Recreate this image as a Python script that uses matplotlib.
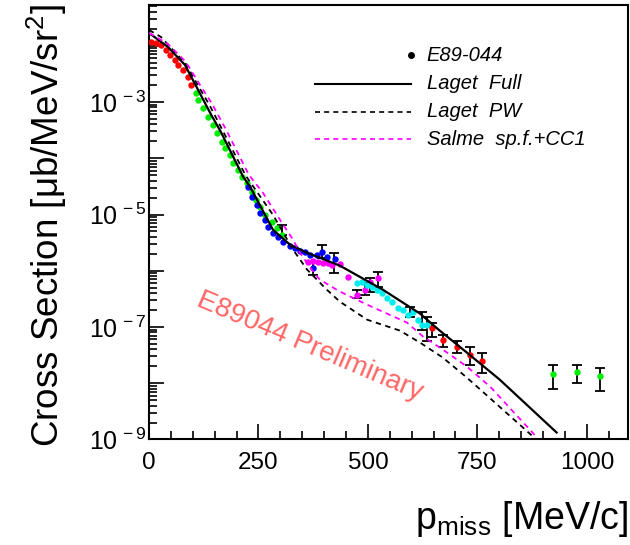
import numpy as np
import matplotlib
matplotlib.use('Agg')
import matplotlib.pyplot as plt
from matplotlib.ticker import FixedLocator, FuncFormatter, MultipleLocator

plt.rcParams['font.family'] = ['Liberation Sans', 'DejaVu Sans']
plt.rcParams['mathtext.fontset'] = 'custom'
plt.rcParams['mathtext.rm'] = 'Liberation Sans'
plt.rcParams['mathtext.it'] = 'Liberation Sans:italic'

# theory curves (p_miss in MeV/c, cross section in ub/MeV/sr^2)
full_p = [0, 43, 82, 112, 142, 164, 215, 231, 283, 322, 361, 436, 534, 619, 664, 726, 801, 931]
full_s = [1.69e-2, 9.55e-3, 4.58e-3, 1.65e-3, 5.93e-4, 2.96e-4, 4.69e-5, 3.12e-5, 5.37e-6,
          2.91e-6, 2.09e-6, 1.23e-6, 4.61e-7, 1.73e-7, 8.63e-8, 3.51e-8, 1.16e-8, 1.33e-9]

pw_p = [0, 27, 84, 110, 139, 171, 221, 283, 329, 361, 406, 436, 498, 573, 619, 671, 726, 877]
pw_s = [1.91e-2, 1.44e-2, 4.78e-3, 2.10e-3, 8.57e-4, 2.84e-4, 4.89e-5, 9.91e-6, 2.37e-6,
        1.05e-6, 4.61e-7, 2.82e-7, 1.35e-7, 8.63e-8, 5.28e-8, 2.86e-8, 1.26e-8, 1.13e-9]

salme_p = [0, 43, 84, 112, 144, 176, 228, 260, 299, 329, 345, 368, 390, 436, 498, 589, 626,
           671, 726, 779, 886]
salme_s = [1.69e-2, 1.08e-2, 5.18e-3, 2.29e-3, 9.29e-4, 3.21e-4, 5.09e-5, 2.44e-5, 8.09e-6,
           3.56e-6, 2.09e-6, 1.14e-6, 6.95e-7, 4.26e-7, 2.50e-7, 1.20e-7, 6.75e-8, 3.97e-8,
           1.98e-8, 8.73e-9, 1.09e-9]

# E89-044 data, one array pair per colour
red1_p = [5, 16, 27, 39, 48, 59, 66, 78, 89, 96]
red1_s = [1.17e-2, 1.13e-2, 1.04e-2, 8.45e-3, 6.89e-3, 5.62e-3, 4.58e-3, 3.73e-3, 2.81e-3, 2.02e-3]

green1_p = [107, 112, 123, 135, 146, 155, 167, 174, 185, 192, 203, 212, 224, 235, 244, 253,
            265, 281, 292, 304]
green1_s = [1.46e-3, 1.09e-3, 7.89e-4, 5.46e-4, 3.94e-4, 2.84e-4, 1.96e-4, 1.54e-4, 1.15e-4,
            8.32e-5, 6.25e-5, 4.69e-5, 3.67e-5, 2.54e-5, 1.83e-5, 1.38e-5, 9.9e-6, 7.45e-6,
            5.83e-6, 4.38e-6]

blue_p = [226, 235, 247, 253, 265, 272, 283, 295, 306, 322, 333, 345, 356, 368, 374, 384, 395,
          406, 425]
blue_s = [3.12e-5, 2.07e-5, 1.49e-5, 1.08e-5, 8.1e-6, 6.07e-6, 4.75e-6, 4.04e-6, 3.29e-6,
          2.79e-6, 2.57e-6, 2.28e-6, 2.18e-6, 1.93e-6, 1.14e-6, 1.93e-6, 2.18e-6, 1.78e-6, 1.64e-6]

mag_p = [363, 374, 386, 397, 409, 418, 436, 454, 475, 493, 505, 523]
mag_s = [1.45e-6, 1.51e-6, 1.45e-6, 1.39e-6, 1.39e-6, 1.28e-6, 1.34e-6, 7.85e-7, 3.76e-7,
         4.61e-7, 6.4e-7, 7.53e-7]

cyan_p = [475, 486, 498, 509, 521, 532, 543, 555, 568, 580, 591, 603, 614, 623, 635]
cyan_s = [6.15e-7, 6.4e-7, 5.66e-7, 5.22e-7, 4.61e-7, 4.08e-7, 3.33e-7, 2.82e-7, 2.21e-7,
          2.04e-7, 1.66e-7, 1.87e-7, 1.35e-7, 1.10e-7, 1.10e-7]

red2_p = [646, 671, 703, 733, 760]
red2_s = [9.75e-8, 5.97e-8, 4.49e-8, 3.24e-8, 2.53e-8]

green2_p = [922, 977, 1030]
green2_s = [1.49e-8, 1.61e-8, 1.32e-8]

# error bars (lower / upper end)
err_p = [304, 374, 395, 422, 475, 493, 505, 523, 596, 623, 635, 646, 671, 703, 733, 760,
         922, 977, 1030]
err_lo = [4.38e-6, 8.5e-7, 1.71e-6, 9.25e-7, 3.33e-7, 3.76e-7, 4.26e-7, 5.22e-7, 1.53e-7,
          9.0e-8, 5.73e-8, 6.75e-8, 4.49e-8, 3.51e-8, 2.15e-8, 1.55e-8, 8.05e-9, 1.03e-8, 7.41e-9]
err_hi = [6.59e-6, 1.45e-6, 2.91e-6, 2.09e-6, 4.61e-7, 6.15e-7, 7.53e-7, 9.64e-7, 2.30e-7,
          1.87e-7, 1.53e-7, 1.20e-7, 7.33e-8, 5.73e-8, 4.49e-8, 3.51e-8, 2.15e-8, 2.15e-8, 1.90e-8]

legend_labels = ['E89-044', 'Laget  Full', 'Laget  PW', 'Salme  sp.f.+CC1']

fig = plt.figure(figsize=(6.3, 5.45), dpi=100)
ax = fig.add_axes([0.2365, 0.1936, 0.7603, 0.798])
ax.set_yscale('log')
ax.set_xlim(0, 1094)
ax.set_ylim(1e-9, 5.4e-2)

# data
lo = np.array(err_lo)
hi = np.array(err_hi)
ax.errorbar(err_p, lo, yerr=[np.zeros_like(lo), hi - lo], fmt='none', ecolor='black',
            elinewidth=1.3, capsize=3.5, capthick=1.3, zorder=2)
for pp, ss, col in [(red1_p, red1_s, '#ff0000'), (green1_p, green1_s, '#00ee00'),
                    (blue_p, blue_s, '#0000ff'), (mag_p, mag_s, '#ff00ff'),
                    (cyan_p, cyan_s, '#00eeee'), (red2_p, red2_s, '#ff0000'),
                    (green2_p, green2_s, '#00ee00')]:
    ax.plot(pp, ss, 'o', color=col, ms=4.6, mew=0, zorder=3)

# curves
ax.plot(full_p, full_s, '-', color='black', lw=1.6, zorder=4)
ax.plot(pw_p, pw_s, color='black', lw=1.3, ls=(0, (3, 2.5)), zorder=4)
ax.plot(salme_p, salme_s, color='#ff00ff', lw=1.3, ls=(0, (3, 2.5)), zorder=4)

# legend drawn by hand
tr = ax.transAxes
ly = [0.883, 0.818, 0.754, 0.690]
ax.plot([0.547], [ly[0]], 'o', color='black', ms=4, transform=tr)
ax.plot([0.347, 0.547], [ly[1]] * 2, '-', color='black', lw=1.5, transform=tr)
ax.plot([0.347, 0.547], [ly[2]] * 2, color='black', lw=1.2, ls=(0, (3, 2.5)), transform=tr)
ax.plot([0.347, 0.547], [ly[3]] * 2, color='#ff00ff', lw=1.2, ls=(0, (3, 2.5)), transform=tr)
for yy, lab in zip(ly, legend_labels):
    ax.text(0.58, yy, lab, transform=tr, fontsize=14.5, style='italic', va='center', ha='left')

ax.text(0.335, 0.215, 'E89044 Preliminary', transform=tr, fontsize=20, color='#ff4040',
        alpha=0.8, rotation=-23, ha='center', va='center')

# axes style
ax.xaxis.set_major_locator(MultipleLocator(250))
ax.xaxis.set_minor_locator(MultipleLocator(50))
ax.yaxis.set_major_locator(FixedLocator([10.0 ** k for k in range(-9, -1)]))
ax.yaxis.set_minor_locator(FixedLocator([m * 10.0 ** k for k in range(-9, -1) for m in range(2, 10)]))


def ylab(v, pos):
    k = int(round(np.log10(v)))
    if k % 2 == 0:
        return ''
    return r'$10^{\,%d}$' % k


ax.yaxis.set_major_formatter(FuncFormatter(ylab))
ax.yaxis.set_minor_formatter(FuncFormatter(lambda v, p: ''))
ax.tick_params(which='both', direction='in', top=False, right=False, width=1.2)
ax.tick_params(which='major', length=11)
ax.tick_params(which='minor', length=5.5)
ax.tick_params(axis='x', labelsize=17.5, pad=9)
ax.tick_params(axis='y', labelsize=18, pad=2)
for sp in ax.spines.values():
    sp.set_linewidth(1.5)

ax.set_xlabel(r'p$_{\rm miss}$ [MeV/c]', fontsize=27, loc='right', labelpad=18)
ax.set_ylabel(r'Cross Section [μb/MeV/sr$^{2}$]', fontsize=26.5, loc='top', labelpad=14)

fig.savefig('out.png', dpi=100)
